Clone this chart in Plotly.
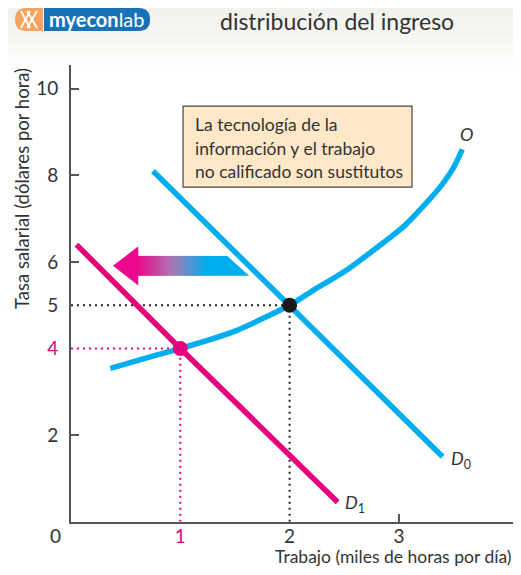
import plotly.graph_objects as go

# ---------------- data ----------------
supply_x = [0.36, 0.78, 1.0, 1.49, 2.0, 2.22, 2.52, 2.86, 3.04, 3.22, 3.38, 3.50, 3.58]
supply_y = [3.54, 3.85, 4.0, 4.39, 5.0, 5.35, 5.81, 6.45, 6.81, 7.28, 7.74, 8.18, 8.60]
d0_x = [0.75, 2.0, 3.40]
d0_y = [8.10, 5.0, 1.50]
d1_x = [0.05, 1.0, 2.44]
d1_y = [6.40, 4.0, 0.45]
eq0 = (2, 5)
eq1 = (1, 4)
y_ticks = [2, 4, 5, 6, 8, 10]
y_ticktext = ["2", '<span style="color:#e6007e">4</span>', "5", "6", "8", "10"]
x_ticks = [1, 2, 3]
x_ticktext = ['<span style="color:#e6007e">1</span>', "2", "3"]
note_lines = ["La tecnología de la", "información y el trabajo", "no calificado son sustitutos"]

CYAN = "#00aeef"
MAGENTA = "#e6007e"
FONT = "Lato"
W, H = 521, 575              # target window
OFF = 8                      # default page body margin
FW, FH = W - 2 * OFF, H - 2 * OFF   # figure size so the page does not overflow
X_END = W - OFF              # right edge of the figure in window pixels

fig = go.Figure()

# dotted guide lines
dot = "2px,4px"
fig.add_trace(go.Scatter(x=[0, eq0[0]], y=[eq0[1], eq0[1]], mode="lines",
                         line=dict(color="#222", width=2, dash=dot)))
fig.add_trace(go.Scatter(x=[eq0[0], eq0[0]], y=[0, eq0[1]], mode="lines",
                         line=dict(color="#222", width=2, dash=dot)))
fig.add_trace(go.Scatter(x=[0, eq1[0]], y=[eq1[1], eq1[1]], mode="lines",
                         line=dict(color=MAGENTA, width=2, dash=dot)))
fig.add_trace(go.Scatter(x=[eq1[0], eq1[0]], y=[0, eq1[1]], mode="lines",
                         line=dict(color=MAGENTA, width=2, dash=dot)))

# curves
fig.add_trace(go.Scatter(x=d0_x, y=d0_y, mode="lines", line=dict(color=CYAN, width=5.5)))
fig.add_trace(go.Scatter(x=supply_x, y=supply_y, mode="lines",
                         line=dict(color=CYAN, width=5.5, shape="spline", smoothing=0.6)))
fig.add_trace(go.Scatter(x=d1_x, y=d1_y, mode="lines", line=dict(color=MAGENTA, width=5.5)))

# equilibrium points
fig.add_trace(go.Scatter(x=[eq0[0]], y=[eq0[1]], mode="markers",
                         marker=dict(color="#1a1a1a", size=15)))
fig.add_trace(go.Scatter(x=[eq1[0]], y=[eq1[1]], mode="markers",
                         marker=dict(color=MAGENTA, size=15)))

shapes = []

def path(pts):
    return "M " + " L ".join(f"{a},{b}" for a, b in pts) + " Z"

def px(x):
    return (x - OFF) / FW

def py(y):
    return 1 - (y - OFF) / FH

# x range so that 1 unit = 109.3 px with origin at window px 71
X_MAX = (X_END - 71) / 109.3

# ---- gradient arrow (shift of demand) ----
tip = (0.384, 5.91)
head_x, head_top, head_bot = 0.61, 6.35, 5.47
shaft_top, shaft_bot = 6.14, 5.68
tail_top_x, tail_bot_x = 1.43, 1.63
grad_end = 1.25

def lerp(c1, c2, t):
    return tuple(int(round(a + (b - a) * t)) for a, b in zip(c1, c2))

stops = [(234, 8, 140), (168, 122, 180), (0, 174, 239)]

def grad(t):
    if t < 0.5:
        return lerp(stops[0], stops[1], t / 0.5)
    return lerp(stops[1], stops[2], (t - 0.5) / 0.5)

shapes.append(dict(type="path", xref="x", yref="y",
                   path=path([tip, (head_x, head_top), (head_x + 0.005, head_top),
                              (head_x + 0.005, head_bot), (head_x, head_bot)]),
                   fillcolor="rgb(234,8,140)", line=dict(width=0)))
N = 30
step = (grad_end - head_x) / N
for i in range(N):
    x0 = head_x + i * step
    x1 = x0 + step * 1.3
    c = grad((i + 0.5) / N)
    shapes.append(dict(type="rect", xref="x", yref="y", x0=x0, x1=x1,
                       y0=shaft_bot, y1=shaft_top,
                       fillcolor=f"rgb{c}", line=dict(width=0)))
shapes.append(dict(type="path", xref="x", yref="y",
                   path=path([(grad_end, shaft_top), (tail_top_x, shaft_top),
                              (tail_bot_x, shaft_bot), (grad_end, shaft_bot)]),
                   fillcolor=CYAN, line=dict(width=0)))

# ---- note box ----
shapes.append(dict(type="rect", xref="x", yref="y", x0=1.025, x1=3.12, y0=7.73, y1=9.60,
                   fillcolor="#fee8c8", line=dict(color="#444", width=1.2), layer="below"))

# ---- top background band ----
band_cols = ["#f2f2ec", "#f4f4ee", "#f5f5f0", "#f7f7f2", "#f9f9f6", "#fbfbf9", "#fdfdfc"]
for i, c in enumerate(band_cols):
    shapes.append(dict(type="rect", xref="paper", yref="paper", x0=0, x1=1,
                       y0=py(OFF + (i + 1) * 9), y1=py(OFF + i * 9),
                       fillcolor=c, line=dict(width=0), layer="below"))

# ---- logo ----
r = 11.5
LT, LB = 8, 31
LM = (LT + LB) / 2
shapes.append(dict(type="path", xref="paper", yref="paper",
                   path=f"M {px(43)},{py(LT)} L {px(15+r)},{py(LT)} "
                        f"Q {px(15)},{py(LT)} {px(15)},{py(LM)} "
                        f"Q {px(15)},{py(LB)} {px(15+r)},{py(LB)} L {px(43)},{py(LB)} Z",
                   fillcolor="#f6a35f", line=dict(width=0)))
shapes.append(dict(type="path", xref="paper", yref="paper",
                   path=f"M {px(44)},{py(LT)} L {px(150-r)},{py(LT)} "
                        f"Q {px(150)},{py(LT)} {px(150)},{py(LM)} "
                        f"Q {px(150)},{py(LB)} {px(150-r)},{py(LB)} L {px(44)},{py(LB)} Z",
                   fillcolor="#1872b8", line=dict(width=0)))
for (a, b, c, d) in [(21, 11, 30, 28), (30, 11, 21, 28), (27, 11, 37, 28), (37, 11, 27, 28)]:
    shapes.append(dict(type="line", xref="paper", yref="paper",
                       x0=px(a), y0=py(b), x1=px(c), y1=py(d),
                       line=dict(color="white", width=1.8)))

annotations = []
annotations.append(dict(xref="paper", yref="paper", x=px(97), y=py(LM),
                        text="<b>myecon</b>lab", showarrow=False,
                        font=dict(family=FONT, size=20, color="white"),
                        xanchor="center", yanchor="middle"))

# title
annotations.append(dict(xref="paper", yref="paper", x=px(337), y=py(21.5),
                        text="distribución del ingreso", showarrow=False,
                        font=dict(family=FONT, size=23, color="#333"),
                        xanchor="center", yanchor="middle"))

# note text
for i, t in enumerate(note_lines):
    annotations.append(dict(xref="paper", yref="paper", x=px(193), y=py(124 + 24 * i),
                            text=t, showarrow=False, xanchor="left", yanchor="middle",
                            font=dict(family=FONT, size=17.5, color="#333")))

# curve labels
annotations.append(dict(xref="paper", yref="paper", x=px(466), y=py(134),
                        text="<i>O</i>", showarrow=False,
                        xanchor="center", yanchor="middle",
                        font=dict(family=FONT, size=18, color="#333")))
annotations.append(dict(xref="paper", yref="paper", x=px(449), y=py(459),
                        text="<i>D</i><sub>0</sub>", showarrow=False,
                        xanchor="left", yanchor="middle",
                        font=dict(family=FONT, size=18, color="#333")))
annotations.append(dict(xref="paper", yref="paper", x=px(343), y=py(503),
                        text="<i>D</i><sub>1</sub>", showarrow=False,
                        xanchor="left", yanchor="middle",
                        font=dict(family=FONT, size=18, color="#333")))

# origin label
annotations.append(dict(xref="paper", yref="paper", x=px(55), y=py(535),
                        text="0", showarrow=False, xanchor="center", yanchor="middle",
                        font=dict(family=FONT, size=19, color="#333")))

# axis titles
annotations.append(dict(xref="paper", yref="paper", x=1, y=py(556),
                        text="Trabajo (miles de horas por día)", showarrow=False,
                        xanchor="right", yanchor="middle",
                        font=dict(family=FONT, size=17.5, color="#333")))
annotations.append(dict(xref="paper", yref="paper", x=px(22), y=py(189),
                        text="Tasa salarial (dólares por hora)", showarrow=False,
                        textangle=-90, xanchor="center", yanchor="middle",
                        font=dict(family=FONT, size=18.5, color="#333")))

fig.update_layout(
    width=FW, height=FH,
    margin=dict(l=0, r=0, t=0, b=0, pad=0),
    paper_bgcolor="white", plot_bgcolor="rgba(0,0,0,0)",
    showlegend=False, hovermode=False,
    shapes=shapes, annotations=annotations,
    font=dict(family=FONT, color="#333"),
    xaxis=dict(range=[0, X_MAX], domain=[px(71), 1], showgrid=False, zeroline=False,
               automargin=False,
               showline=True, linecolor="#555", linewidth=2,
               tickmode="array", tickvals=x_ticks, ticktext=x_ticktext, ticks="",
               tickfont=dict(family=FONT, size=19, color="#333"),
               ticklabelstandoff=-4,
               minor=dict(tickmode="array", tickvals=[3], ticks="inside", ticklen=8,
                          tickcolor="#555", tickwidth=1.5)),
    yaxis=dict(range=[0, 10.55], domain=[py(521.7), py(65)],
               showgrid=False, zeroline=False, automargin=False,
               showline=True, linecolor="#555", linewidth=2,
               tickmode="array", tickvals=y_ticks, ticktext=y_ticktext, ticks="",
               tickfont=dict(family=FONT, size=19, color="#333"),
               ticklabelstandoff=7,
               minor=dict(tickmode="array", tickvals=[2, 6, 8, 10], ticks="inside", ticklen=8,
                          tickcolor="#555", tickwidth=1.5)),
)

fig.write_html("out.html")
